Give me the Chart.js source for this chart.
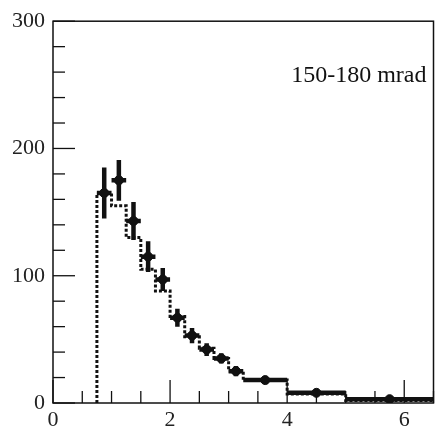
<!DOCTYPE html>
<html>
<head>
<meta charset="utf-8">
<script src="https://cdn.jsdelivr.net/npm/chart.js@4/dist/chart.umd.min.js"></script>
<style>
  body { margin: 0; background: #fff; }
  #wrap { width: 439px; height: 431px; }
</style>
</head>
<body>
<div id="wrap"><canvas id="grafico"></canvas></div>
<script>
// bordes de los bins (eje x)
const bordes = [0.75, 1.0, 1.25, 1.5, 1.75, 2.0, 2.25, 2.5, 2.75, 3.0, 3.25, 4.0, 5.0, 6.5];
// datos medidos (cruces) y sus errores
const datos = [165, 175, 143, 115, 97, 67, 53, 42, 35, 25, 18, 8, 3];
const errores = [20, 16, 15, 12, 9, 7, 6, 5, 4, 4, 2, 1.5, 1];
// histograma simulado (linea punteada)
const simulado = [165, 155, 130, 105, 88, 68, 52, 43, 35, 25, 18, 7, 2];
// etiquetas de los ejes
const etiquetasX = [0, 2, 4, 6];
const etiquetasY = [0, 100, 200, 300];
const rotulo = "150-180 mrad";

// puntos en el centro de cada bin
const puntos = datos.map((v, i) => ({ x: (bordes[i] + bordes[i + 1]) / 2, y: v }));

// escalones del histograma
const escalones = [{ x: bordes[0], y: 0 }];
simulado.forEach((v, i) => escalones.push({ x: bordes[i], y: v }));
escalones.push({ x: bordes[bordes.length - 1], y: simulado[simulado.length - 1] });

const fuente = "'Liberation Serif', 'DejaVu Serif', serif";

// marco, ticks hacia adentro, barras de error y rotulo
const extras = {
  id: "extras",
  afterDatasetsDraw(chart) {
    const ctx = chart.ctx;
    const a = chart.chartArea;
    const sx = chart.scales.x;
    const sy = chart.scales.y;
    ctx.save();
    ctx.strokeStyle = "#111";
    ctx.fillStyle = "#111";

    // barras de error
    ctx.lineWidth = 4.5;
    puntos.forEach((p, i) => {
      const px = sx.getPixelForValue(p.x);
      const py = sy.getPixelForValue(p.y);
      ctx.beginPath();
      ctx.moveTo(sx.getPixelForValue(bordes[i]), py);
      ctx.lineTo(sx.getPixelForValue(bordes[i + 1]), py);
      ctx.moveTo(px, sy.getPixelForValue(p.y - errores[i]));
      ctx.lineTo(px, sy.getPixelForValue(p.y + errores[i]));
      ctx.stroke();
    });

    // marco
    ctx.lineWidth = 1.5;
    ctx.strokeRect(a.left, a.top, a.right - a.left, a.bottom - a.top);

    // ticks
    ctx.lineWidth = 1.3;
    sx.ticks.forEach((t) => {
      const px = sx.getPixelForValue(t.value);
      const largo = etiquetasX.includes(t.value) ? 23 : 12;
      ctx.beginPath();
      ctx.moveTo(px, a.bottom);
      ctx.lineTo(px, a.bottom - largo);
      ctx.stroke();
    });
    sy.ticks.forEach((t) => {
      const py = sy.getPixelForValue(t.value);
      const largo = etiquetasY.includes(t.value) ? 22 : 12;
      ctx.beginPath();
      ctx.moveTo(a.left, py);
      ctx.lineTo(a.left + largo, py);
      ctx.stroke();
    });

    // rotulo
    ctx.font = "24px " + fuente;
    ctx.textAlign = "right";
    ctx.textBaseline = "alphabetic";
    ctx.fillText(rotulo, a.right - 7, 82);
    ctx.restore();
  },
};

const config = {
  type: "scatter",
  data: {
    datasets: [
      {
        type: "line",
        data: escalones,
        stepped: "before",
        borderColor: "#111",
        borderWidth: 3,
        borderDash: [3, 2],
        pointRadius: 0,
        fill: false,
        order: 2,
      },
      {
        data: puntos,
        backgroundColor: "#111",
        borderColor: "#111",
        pointRadius: 4.5,
        order: 1,
      },
    ],
  },
  options: {
    responsive: true,
    maintainAspectRatio: false,
    animation: false,
    layout: { padding: { top: 20, right: 1, left: 0, bottom: 0 } },
    plugins: { legend: { display: false }, tooltip: { enabled: false } },
    scales: {
      x: {
        type: "linear",
        min: 0,
        max: 6.5,
        grid: { display: false, drawTicks: false },
        border: { display: false },
        afterFit: (s) => { s.height = 28; },
        ticks: {
          stepSize: 0.5,
          autoSkip: false,
          maxRotation: 0,
          padding: 4,
          color: "#222",
          font: { family: fuente, size: 22 },
          callback: (v) => (etiquetasX.includes(v) ? String(v) : ""),
        },
      },
      y: {
        type: "linear",
        min: 0,
        max: 300,
        grid: { display: false, drawTicks: false },
        border: { display: false },
        afterFit: (s) => { s.width = 53; },
        ticks: {
          stepSize: 20,
          autoSkip: false,
          padding: 8,
          color: "#222",
          font: { family: fuente, size: 22 },
          callback: (v) => (etiquetasY.includes(v) ? String(v) : ""),
        },
      },
    },
  },
  plugins: [extras],
};

new Chart(document.getElementById("grafico"), config);
</script>
</body>
</html>
